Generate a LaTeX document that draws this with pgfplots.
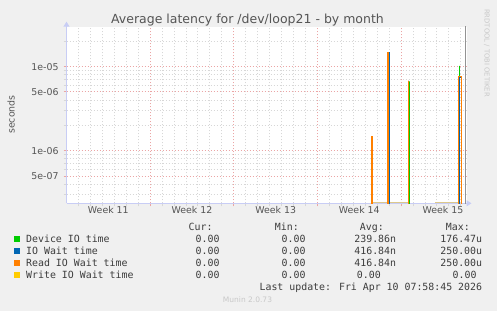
\documentclass[border=0pt]{standalone}
\usepackage{pgfplots}
\pgfplotsset{compat=1.18}
\usepackage{fontspec}
\setmainfont{DejaVu Sans}
\newfontfamily\monofont{DejaVu Sans Mono}
\usetikzlibrary{arrows.meta}
\definecolor{bgc}{RGB}{240,240,240}
\definecolor{txt}{RGB}{85,85,85}
\definecolor{legtxt}{RGB}{60,60,60}
\definecolor{axc}{RGB}{200,205,245}
\definecolor{mgrid}{RGB}{235,165,165}
\definecolor{ngrid}{RGB}{215,215,215}
\definecolor{cgreen}{RGB}{0,204,0}
\definecolor{cblue}{RGB}{0,102,179}
\definecolor{corange}{RGB}{255,128,0}
\definecolor{cyellow}{RGB}{255,204,0}
\definecolor{ctan}{RGB}{220,200,140}
\definecolor{wm}{RGB}{200,200,200}
\begin{document}
\begin{tikzpicture}[x=1pt,y=1pt]
\fill[bgc] (0,0) rectangle (497,311);
\begin{axis}[
  at={(66.5pt,107.7pt)}, anchor=south west,
  scale only axis, width=400pt, height=176.6pt,
  xmin=0, xmax=33.47, ymode=log, ymin=2.37e-7, ymax=2.99e-5,
  axis background/.style={fill=white},
  axis x line=bottom, axis y line=left,
  axis line style={draw=axc, line width=1pt, -{Triangle[length=5pt,width=6pt]}, shorten >=-5pt},
  xtick={7,14,21,28}, xticklabels={},
  minor xtick={1,2,3,4,5,6,8,9,10,11,12,13,15,16,17,18,19,20,22,23,24,25,26,27,29,30,31,32,33},
  extra x ticks={3.5,10.5,17.5,24.5,31.5},
  extra x tick labels={Week 11,Week 12,Week 13,Week 14,Week 15},
  extra x tick style={major tick length=0pt, grid=none},
  ytick={5e-7,1e-6,5e-6,1e-5}, yticklabels={5e-07,1e-06,5e-06,1e-05},
  minor ytick={3e-7,4e-7,6e-7,7e-7,8e-7,9e-7,2e-6,3e-6,4e-6,6e-6,7e-6,8e-6,9e-6,2e-5},
  grid=both,
  major grid style={draw=mgrid, dash pattern=on 1pt off 2pt, line width=1pt},
  minor grid style={draw=ngrid, dash pattern=on 1pt off 2pt, line width=1pt},
  major tick style={draw=mgrid, line width=1pt},
  minor tick style={draw=ngrid, line width=1pt},
  tick align=outside, major tick length=3pt, minor tick length=3pt,
  tick label style={font=\fontsize{9.4}{10}\selectfont, text=txt},
  yticklabel style={xshift=-1.4pt},
  xticklabel style={yshift=0.8pt},
  unbounded coords=jump,
]
% Write IO Wait time (0, drawn at the bottom)
\addplot[draw=ctan, line width=1pt] coordinates {(25.56,2.41e-7) (28.58,2.41e-7)};
\addplot[draw=ctan, line width=1pt] coordinates {(30.84,2.41e-7) (32.85,2.41e-7)};
% Device IO time
\addplot[draw=cgreen, line width=1pt] coordinates {
 (25.54,1e-9) (25.54,4.7e-7) (25.54,1e-9)
 (26.88,1e-9) (26.88,1.3e-5) (26.88,1e-9)
 (28.66,1e-9) (28.66,6.7e-6) (28.66,1e-9)
 (32.92,1e-9) (32.92,1.02e-5) (32.92,1e-9)};
% IO Wait time (hidden under Read IO Wait time)
\addplot[draw=cblue, line width=0.4pt] coordinates {
 (25.48,1e-9) (25.48,1.47e-6) (25.59,1.47e-6) (25.59,1e-9)
 (26.88,1e-9) (26.88,1.47e-5) (26.96,1.47e-5) (26.96,1e-9)
 (28.63,1e-9) (28.63,6.76e-6) (28.63,1e-9)
 (32.84,1e-9) (32.84,7.6e-6) (33.01,7.6e-6) (33.01,1e-9)};
% Read IO Wait time
\addplot[draw=corange, line width=1pt] coordinates {
 (25.48,1e-9) (25.48,1.47e-6) (25.59,1.47e-6) (25.59,1e-9)
 (26.88,1e-9) (26.88,1.47e-5) (26.96,1.47e-5) (26.96,1e-9)
 (28.63,1e-9) (28.63,6.76e-6) (28.63,1e-9)
 (32.84,1e-9) (32.84,7.6e-6) (33.01,7.6e-6) (33.01,1e-9)};
% now line
\addplot[draw=gray!85, line width=1.2pt] coordinates {(33.37,1e-9) (33.37,1e-3)};
\end{axis}
% title and labels
\node[anchor=base, text=txt, font=\fontsize{12.5}{14}\selectfont] at (247.5,287) {Average latency for /dev/loop21 - by month};
\node[rotate=90, text=txt, font=\fontsize{9.4}{10}\selectfont] at (11,196.5) {seconds};
\node[rotate=-90, text=wm, font=\fontsize{6.8}{8}\selectfont] at (486.7,258) {RRDTOOL / TOBI OETIKER};
% legend
\begin{scope}[every node/.style={font=\monofont\fontsize{9.9}{11}\selectfont, text=legtxt, inner sep=0pt}]
\node[anchor=base east] at (212.7,80.4) {Cur:};
\node[anchor=base east] at (299,80.4) {Min:};
\node[anchor=base east] at (384,80.4) {Avg:};
\node[anchor=base east] at (470,80.4) {Max:};
\fill[cgreen] (14,68.7) rectangle (20,74.7);
\fill[cblue] (14,56.7) rectangle (20,62.7);
\fill[corange] (14,44.7) rectangle (20,50.7);
\fill[cyellow] (14,32.7) rectangle (20,38.7);
\node[anchor=base west] at (26,68.4) {Device IO time};
\node[anchor=base west] at (26,56.4) {IO Wait time};
\node[anchor=base west] at (26,44.4) {Read IO Wait time};
\node[anchor=base west] at (26,32.4) {Write IO Wait time};
\foreach \yy in {68.4,56.4,44.4,32.4} {
  \node[anchor=base east] at (219.7,\yy) {0.00};
  \node[anchor=base east] at (305.7,\yy) {0.00};
}
\node[anchor=base east] at (396.3,68.4) {239.86n};
\node[anchor=base east] at (396.3,56.4) {416.84n};
\node[anchor=base east] at (396.3,44.4) {416.84n};
\node[anchor=base east] at (381,32.4) {0.00};
\node[anchor=base east] at (482.3,68.4) {176.47u};
\node[anchor=base east] at (482.3,56.4) {250.00u};
\node[anchor=base east] at (482.3,44.4) {250.00u};
\node[anchor=base east] at (476.7,32.4) {0.00};
\node[anchor=base east] at (482.3,20.4) {Last update: Fri Apr 10 07:58:45 2026};
\end{scope}
\node[anchor=base, text=wm, font=\fontsize{7.5}{9}\selectfont, inner sep=0pt] at (247.5,8.3) {Munin 2.0.73};
\end{tikzpicture}
\end{document}
